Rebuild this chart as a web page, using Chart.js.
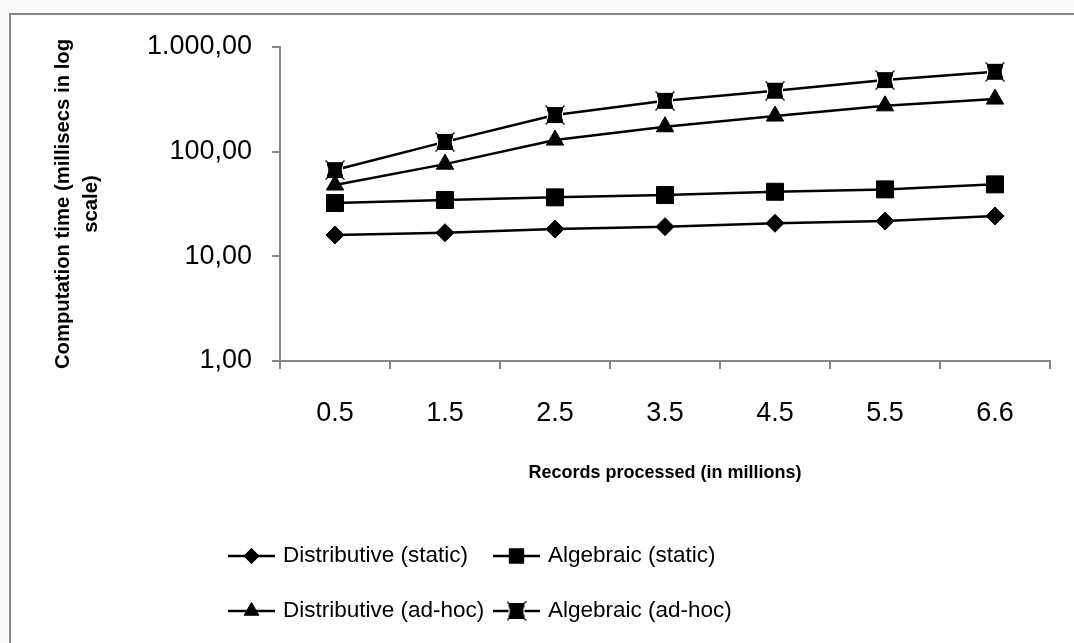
<!DOCTYPE html>
<html>
<head>
<meta charset="utf-8">
<script src="https://cdn.jsdelivr.net/npm/chart.js@4.4.1/dist/chart.umd.min.js"></script>
<style>
  html, body { margin: 0; padding: 0; background: #fafafa; }
  #wrap { width: 1074px; height: 643px; }
</style>
</head>
<body>
<div id="wrap"><canvas id="c" width="1074" height="643"></canvas></div>
<script>
// ---- data ----
const categories = ['0.5', '1.5', '2.5', '3.5', '4.5', '5.5', '6.6'];
const distributiveStatic = [16.0, 16.8, 18.2, 19.2, 20.7, 21.7, 24.3];
const algebraicStatic    = [32.3, 34.5, 36.6, 38.5, 41.4, 43.6, 48.7];
const distributiveAdhoc  = [48, 76, 129, 173, 219, 274, 318];
const algebraicAdhoc     = [66.7, 124, 224, 306, 382, 483, 580];
const seriesLabels = ['Distributive (static)', 'Algebraic (static)', 'Distributive (ad-hoc)', 'Algebraic (ad-hoc)'];
const yTickValues = [1, 10, 100, 1000];
const yTickLabels = ['1,00', '10,00', '100,00', '1.000,00'];
const xTitle = 'Records processed (in millions)';
const yTitle = ['Computation time (millisecs in log', 'scale)'];

// custom marker: filled square with small X notches at corners
function makeSquareX() {
  const s = 20, cv = document.createElement('canvas');
  cv.width = s; cv.height = s;
  const g = cv.getContext('2d');
  g.fillStyle = '#000';
  g.fillRect(2, 2, s - 4, s - 4);
  g.strokeStyle = '#000'; g.lineWidth = 1.2;
  g.beginPath();
  g.moveTo(0.5, 0.5); g.lineTo(4, 4);
  g.moveTo(s - 0.5, 0.5); g.lineTo(s - 4, 4);
  g.moveTo(0.5, s - 0.5); g.lineTo(4, s - 4);
  g.moveTo(s - 0.5, s - 0.5); g.lineTo(s - 4, s - 4);
  g.stroke();
  g.fillStyle = '#fff';
  g.beginPath(); g.moveTo(2, 5); g.quadraticCurveTo(4.5, 10, 2, 15); g.closePath(); g.fill();
  g.beginPath(); g.moveTo(s - 2, 5); g.quadraticCurveTo(s - 4.5, 10, s - 2, 15); g.closePath(); g.fill();
  return cv;
}
const squareX = makeSquareX();

const FONT = "'Liberation Sans', Arial, sans-serif";

function ds(label, data, style, radius) {
  return {
    label, data,
    borderColor: '#000', backgroundColor: '#000',
    borderWidth: 2.5,
    pointStyle: style, pointRadius: radius, pointHoverRadius: radius,
    pointBackgroundColor: '#000', pointBorderColor: '#000', pointBorderWidth: 1,
    tension: 0, fill: false
  };
}

const datasets = [
  ds(seriesLabels[0], distributiveStatic, 'rectRot', 9),
  ds(seriesLabels[1], algebraicStatic, 'rect', 12),
  ds(seriesLabels[2], distributiveAdhoc, 'triangle', 10),
  ds(seriesLabels[3], algebraicAdhoc, squareX, 10)
];

const bgPlugin = {
  id: 'bg',
  beforeDraw(chart) {
    const ctx = chart.ctx;
    ctx.save();
    ctx.fillStyle = '#fafafa';
    ctx.fillRect(0, 0, chart.width, chart.height);
    ctx.fillStyle = '#ffffff';
    ctx.fillRect(9, 13, chart.width - 9, chart.height - 13);
    ctx.fillStyle = '#8a8a8a';
    ctx.fillRect(9, 13, 2, chart.height - 13);
    ctx.fillRect(9, 13, chart.width - 9, 2);
    ctx.restore();
  }
};

const legendPlugin = {
  id: 'gridLegend',
  afterDraw(chart) {
    const ctx = chart.ctx;
    const cols = [{ line: 228, text: 283 }, { line: 493, text: 548 }];
    const rows = [556, 611];
    ctx.save();
    chart.data.datasets.forEach((d, i) => {
      const c = cols[i % 2], y = rows[Math.floor(i / 2)];
      ctx.strokeStyle = '#000'; ctx.lineWidth = 2.5;
      ctx.beginPath(); ctx.moveTo(c.line, y); ctx.lineTo(c.line + 47, y); ctx.stroke();
      ctx.fillStyle = '#000'; ctx.strokeStyle = '#000'; ctx.lineWidth = 1;
      Chart.helpers.drawPoint(ctx, { pointStyle: d.pointStyle, radius: d.pointRadius * 0.85, rotation: 0, borderWidth: 1 }, c.line + 23.5, y);
      ctx.fillStyle = '#000';
      ctx.font = '22.5px ' + FONT;
      ctx.textAlign = 'left'; ctx.textBaseline = 'middle';
      ctx.fillText(d.label, c.text, y);
    });
    ctx.restore();
  }
};

new Chart(document.getElementById('c'), {
  type: 'line',
  data: { labels: categories, datasets },
  plugins: [bgPlugin, legendPlugin],
  options: {
    responsive: false,
    animation: false,
    events: [],
    layout: { padding: { left: 0, right: 24, top: 47, bottom: 152 } },
    plugins: { legend: { display: false }, tooltip: { enabled: false } },
    scales: {
      x: {
        type: 'category',
        offset: true,
        grid: { offset: true, drawOnChartArea: false, drawTicks: true, tickLength: 8, color: '#868686', lineWidth: 2 },
        border: { display: true, color: '#868686', width: 2 },
        ticks: { color: '#000', font: { family: FONT, size: 27 }, padding: 28, maxRotation: 0 },
        title: { display: true, text: xTitle, color: '#000', font: { family: FONT, size: 18, weight: 'bold' }, padding: { top: 0, bottom: 7 } },
        afterFit(scale) { scale.height = 130; }
      },
      y: {
        type: 'logarithmic',
        min: 1, max: 1000,
        afterBuildTicks(scale) { scale.ticks = yTickValues.map(v => ({ value: v })); },
        grid: { drawOnChartArea: false, drawTicks: true, tickLength: 8, color: '#868686', lineWidth: 2 },
        border: { display: true, color: '#868686', width: 2 },
        ticks: {
          color: '#000', font: { family: FONT, size: 27 }, padding: 20,
          callback(value) { const k = yTickValues.indexOf(value); return k >= 0 ? yTickLabels[k] : ''; }
        },
        title: { display: true, text: yTitle, color: '#000', font: { family: FONT, size: 20.3, weight: 'bold', lineHeight: 1.35 }, padding: { top: 50, bottom: 0 } },
        afterFit(scale) { scale.width = 280; }
      }
    }
  }
});
</script>
</body>
</html>
